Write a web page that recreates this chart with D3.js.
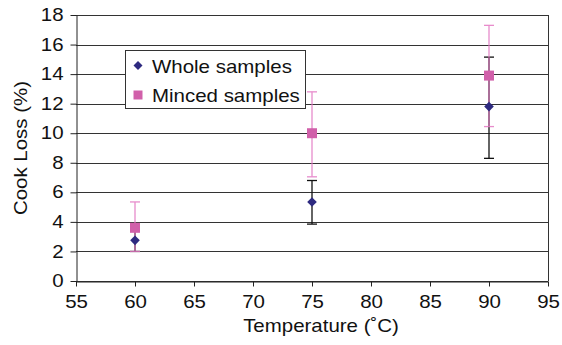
<!DOCTYPE html>
<html>
<head>
<meta charset="utf-8">
<script src="https://cdn.jsdelivr.net/npm/d3@7"></script>
<style>
body { margin: 0; background: #fff; }
text { font-family: "Liberation Sans", Arial, sans-serif; }
</style>
</head>
<body>
<div id="chart"></div>
<script>
// data
var temps = [60, 75, 90]
var wholeMean = [2.75, 5.35, 11.8]
var wholeLow = [2.0, 3.85, 8.3]
var wholeHigh = [3.5, 6.8, 15.15]
var mincedMean = [3.6, 10.0, 13.9]
var mincedLow = [2.0, 7.05, 10.45]
var mincedHigh = [5.35, 12.8, 17.3]
var xTicks = [55, 60, 65, 70, 75, 80, 85, 90, 95]
var yTicks = [0, 2, 4, 6, 8, 10, 12, 14, 16, 18]
var seriesNames = ["Whole samples", "Minced samples"]

var svgWidth = 562, svgHeight = 345
var margin = { top: 15, right: 14, bottom: 64, left: 76 }
var width = svgWidth - margin.left - margin.right
var height = svgHeight - margin.top - margin.bottom

// the original text is a bit wider than Arial
var stretch = 1.17
var fontSize = "17.5px"

var svg = d3.select("#chart").append("svg")
    .attr("width", svgWidth)
    .attr("height", svgHeight)

var chart = svg.append("g")
    .attr("transform", "translate(" + margin.left + "," + margin.top + ")")

var x = d3.scaleLinear().domain([55, 95]).range([0, width])
var y = d3.scaleLinear().domain([0, 18]).range([height, 0])

// gridlines
chart.selectAll("line.grid").data(yTicks)
    .enter().append("line").attr("class", "grid")
    .attr("x1", 0).attr("x2", width)
    .attr("y1", function(d) { return Math.round(y(d)) + 0.5 })
    .attr("y2", function(d) { return Math.round(y(d)) + 0.5 })
    .attr("stroke", "#333").attr("stroke-width", 1)

// right border
chart.append("line")
    .attr("x1", width + 0.5).attr("x2", width + 0.5)
    .attr("y1", 0).attr("y2", height)
    .attr("stroke", "#333")

var xAxis = d3.axisBottom(x).tickValues(xTicks).tickSize(5).tickSizeOuter(0)
chart.append("g")
    .attr("transform", "translate(0," + (Math.round(height) + 0.5) + ")")
    .call(function(g) { styleAxis(g, xAxis) })
    .selectAll("text").attr("dy", "1.05em")

var yAxis = d3.axisLeft(y).tickValues(yTicks).tickSize(6).tickSizeOuter(0)
chart.append("g")
    .attr("transform", "translate(0.5,0)")
    .call(function(g) { styleAxis(g, yAxis) })
    .selectAll("text").attr("x", -13 / stretch)

function styleAxis(g, axis) {
    g.call(axis)
    g.select(".domain").attr("stroke", "#222")
    g.selectAll("line").attr("stroke", "#222")
    g.selectAll("text").style("font-size", fontSize).attr("fill", "#111")
        .attr("transform", "scale(" + stretch + ",1)")
}

// error bars
function errorBars(lows, highs, color, opacity) {
    var grp = chart.append("g").attr("stroke", color).attr("stroke-width", 1.3).attr("opacity", opacity)
    temps.forEach(function(t, i) {
        var cx = x(t)
        grp.append("line").attr("x1", cx).attr("x2", cx).attr("y1", y(lows[i])).attr("y2", y(highs[i]))
        grp.append("line").attr("x1", cx - 5).attr("x2", cx + 5).attr("y1", y(lows[i])).attr("y2", y(lows[i]))
        grp.append("line").attr("x1", cx - 5).attr("x2", cx + 5).attr("y1", y(highs[i])).attr("y2", y(highs[i]))
    })
}
errorBars(wholeLow, wholeHigh, "#111", 1)
errorBars(mincedLow, mincedHigh, "#e479c4", 0.85)

function diamondPath(r) {
    return "M0," + (-r) + "L" + r + ",0L0," + r + "L" + (-r) + ",0Z"
}
function squarePath(r) {
    return "M" + (-r) + "," + (-r) + "h" + (2 * r) + "v" + (2 * r) + "h" + (-2 * r) + "Z"
}

chart.selectAll("path.minced").data(mincedMean)
    .enter().append("path").attr("class", "minced")
    .attr("d", squarePath(5))
    .attr("transform", function(d, i) { return "translate(" + x(temps[i]) + "," + y(d) + ")" })
    .attr("fill", "#d160aa")

chart.selectAll("path.whole").data(wholeMean)
    .enter().append("path").attr("class", "whole")
    .attr("d", diamondPath(4.8))
    .attr("transform", function(d, i) { return "translate(" + x(temps[i]) + "," + y(d) + ")" })
    .attr("fill", "#2e2a80")

// legend
var legend = svg.append("g").attr("transform", "translate(125.5,50.5)")
legend.append("rect").attr("width", 180).attr("height", 58)
    .attr("fill", "#fff").attr("stroke", "#333")
legend.append("path").attr("d", diamondPath(4.5)).attr("transform", "translate(12.5,15)").attr("fill", "#2e2a80")
legend.append("path").attr("d", squarePath(4.5)).attr("transform", "translate(12.5,44.5)").attr("fill", "#d160aa")
legend.selectAll("text").data(seriesNames)
    .enter().append("text")
    .attr("transform", function(d, i) { return "translate(26.5," + (22.5 + i * 28.5) + ") scale(" + stretch + ",1)" })
    .style("font-size", fontSize)
    .attr("fill", "#111")
    .text(function(d) { return d })

// axis titles
svg.append("text")
    .attr("transform", "translate(321,332) scale(" + stretch + ",1)")
    .attr("text-anchor", "middle")
    .style("font-size", fontSize).attr("fill", "#111")
    .text("Temperature (˚C)")

svg.append("text")
    .attr("transform", "translate(27,148) rotate(-90) scale(" + stretch + ",1)")
    .attr("text-anchor", "middle")
    .style("font-size", fontSize).attr("fill", "#111")
    .text("Cook Loss (%)")
</script>
</body>
</html>
